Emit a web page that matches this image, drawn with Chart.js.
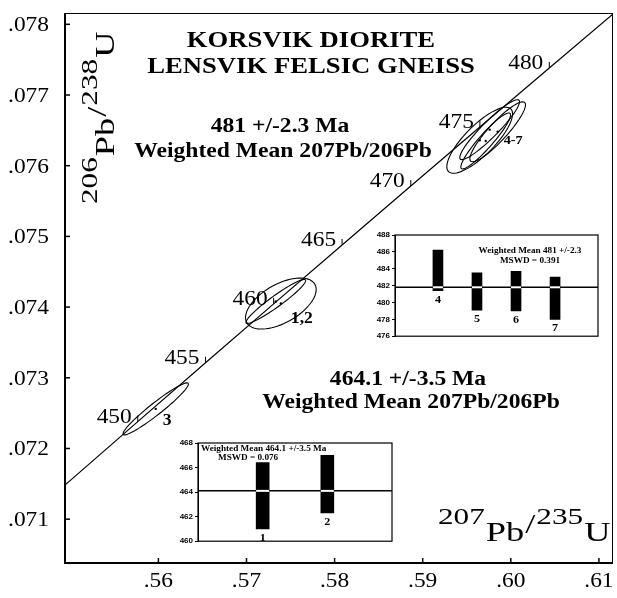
<!DOCTYPE html>
<html>
<head>
<meta charset="utf-8">
<script src="https://cdn.jsdelivr.net/npm/chart.js@4.4.0/dist/chart.umd.min.js"></script>
<style>
html, body { margin:0; padding:0; background:#fff; }
#wrap { position:relative; width:617px; height:598px; }
#main { position:absolute; left:0; top:0; }
#ins1 { position:absolute; left:365px; top:228px; }
#ins2 { position:absolute; left:170px; top:436px; }
</style>
</head>
<body>
<div id="wrap">
<canvas id="main" width="617" height="598"></canvas>
<canvas id="ins1" width="236" height="115"></canvas>
<canvas id="ins2" width="225" height="112"></canvas>
</div>
<script>
// axis ticks
var xTicks = [0.56, 0.57, 0.58, 0.59, 0.60, 0.61];
var yTicks = [0.071, 0.072, 0.073, 0.074, 0.075, 0.076, 0.077, 0.078];

// concordia (207Pb/235U, 206Pb/238U) by age in Ma
var concAge = [440, 445, 450, 455, 460, 465, 470, 475, 480, 485];
var concX = [0.54240, 0.55001, 0.55766, 0.56535, 0.57308, 0.58085, 0.58865, 0.59649, 0.60437, 0.61229];
var concY = [0.070718, 0.071549, 0.072380, 0.073213, 0.074046, 0.074878, 0.075713, 0.076547, 0.077382, 0.078219];
var labelAges = [450, 455, 460, 465, 470, 475, 480];

// zircon error ellipses
var ellName = ['3', '1', '2', '4', '5', '6', '7'];
var ellX = [0.5597, 0.57390, 0.57333, 0.59760, 0.59851, 0.59647, 0.59715];
var ellY = [0.07256, 0.07405, 0.07408, 0.07651, 0.07648, 0.07636, 0.07635];
var ellSX = [0.00371, 0.00401, 0.00339, 0.00339, 0.00316, 0.00373, 0.00282];
var ellSY = [0.000368, 0.000361, 0.000311, 0.000424, 0.000424, 0.000467, 0.000396];
var ellRho = [0.957, 0.55, 0.95, 0.93, 0.90, 0.80, 0.93];

// weighted mean insets
var ins1Grains = ['4', '5', '6', '7'];
var ins1Low = [481.4, 479.1, 479.0, 478.0];
var ins1High = [486.2, 483.5, 483.7, 483.0];
var ins1Mean = 481.8;
var ins1Ticks = [476, 478, 480, 482, 484, 486, 488];

var ins2Grains = ['1', '2'];
var ins2Low = [461.0, 462.3];
var ins2High = [466.4, 467.0];
var ins2Mean = 464.1;
var ins2Ticks = [460, 462, 464, 466, 468];

var SERIF = '"Liberation Serif", "Times New Roman", serif';

function sText(ctx, txt, x, y, font, align, sx) {
    ctx.save();
    ctx.font = font;
    var w = ctx.measureText(txt).width * sx;
    var x0 = align == 'center' ? x - w / 2 : (align == 'right' ? x - w : x);
    ctx.translate(x0, y);
    ctx.scale(sx, 1);
    ctx.textAlign = 'left';
    ctx.textBaseline = 'alphabetic';
    ctx.fillStyle = '#000';
    ctx.fillText(txt, 0, 0);
    ctx.restore();
}

// isotope label like 207Pb/235U with raised numbers
function isoLabel(ctx, parts, sx) {
    var x = 0;
    for (var i = 0; i < parts.length; i++) {
        var p = parts[i];
        ctx.font = p[1];
        ctx.save();
        ctx.translate(x, p[2]);
        ctx.scale(sx, 1);
        ctx.fillText(p[0], 0, 0);
        ctx.restore();
        x += ctx.measureText(p[0]).width * sx + 1;
    }
}

var mainDeco = {
    id: 'mainDeco',
    afterDatasetsDraw: function(chart) {
        var ctx = chart.ctx, xs = chart.scales.x, ys = chart.scales.y, a = chart.chartArea;
        ctx.save();
        ctx.strokeStyle = '#000';
        ctx.fillStyle = '#000';

        // error ellipses
        ctx.lineWidth = 1.1;
        for (var i = 0; i < ellX.length; i++) {
            ctx.beginPath();
            for (var k = 0; k <= 72; k++) {
                var t = k / 72 * Math.PI * 2;
                var vx = ellX[i] + ellSX[i] * Math.cos(t);
                var vy = ellY[i] + ellSY[i] * (ellRho[i] * Math.cos(t) + Math.sqrt(1 - ellRho[i] * ellRho[i]) * Math.sin(t));
                var px = xs.getPixelForValue(vx), py = ys.getPixelForValue(vy);
                if (k == 0) ctx.moveTo(px, py); else ctx.lineTo(px, py);
            }
            ctx.stroke();
        }

        // age ticks on concordia
        ctx.lineWidth = 1;
        labelAges.forEach(function(age) {
            var j = concAge.indexOf(age);
            var px = xs.getPixelForValue(concX[j]), py = ys.getPixelForValue(concY[j]);
            ctx.beginPath();
            ctx.moveTo(px, py);
            ctx.lineTo(px, py - 6);
            ctx.stroke();
            sText(ctx, String(age), px - 6, py + 1, '20px ' + SERIF, 'right', 1.17);
        });

        // grain labels
        var p3 = [xs.getPixelForValue(ellX[0]), ys.getPixelForValue(ellY[0])];
        sText(ctx, '3', p3[0] + 7, p3[1] + 16, 'bold 16px ' + SERIF, 'left', 1.1);
        var p12 = [xs.getPixelForValue(ellX[1]), ys.getPixelForValue(ellY[1])];
        sText(ctx, '1,2', p12[0] + 10, p12[1] + 19, 'bold 16px ' + SERIF, 'left', 1.1);
        var p47 = [xs.getPixelForValue(ellX[3]), ys.getPixelForValue(ellY[3])];
        sText(ctx, '4-7', p47[0] + 14, p47[1] + 14, 'bold 13px ' + SERIF, 'left', 1.1);

        // frame
        ctx.lineWidth = 1;
        ctx.strokeRect(a.left + 0.5, a.top + 0.5, a.right - a.left - 1, a.bottom - a.top - 1);
        ctx.lineWidth = 2;
        ctx.beginPath();
        ctx.moveTo(a.left, a.top);
        ctx.lineTo(a.left, a.bottom);
        ctx.lineTo(a.right, a.bottom);
        ctx.stroke();

        // inward ticks and tick labels
        ctx.lineWidth = 1.5;
        xTicks.forEach(function(v) {
            var px = xs.getPixelForValue(v);
            ctx.beginPath();
            ctx.moveTo(px, a.bottom);
            ctx.lineTo(px, a.bottom - 5);
            ctx.stroke();
            sText(ctx, v.toFixed(2).replace(/^0/, ''), px, a.bottom + 24, '20px ' + SERIF, 'center', 1.17);
        });
        yTicks.forEach(function(v) {
            var py = ys.getPixelForValue(v);
            ctx.beginPath();
            ctx.moveTo(a.left, py);
            ctx.lineTo(a.left + 5, py);
            ctx.stroke();
            sText(ctx, v.toFixed(3).replace(/^0/, ''), a.left - 16, py + 7, '20px ' + SERIF, 'right', 1.17);
        });

        // titles
        sText(ctx, 'KORSVIK DIORITE', 311, 47, 'bold 23px ' + SERIF, 'center', 1.16);
        sText(ctx, 'LENSVIK FELSIC GNEISS', 311, 73, 'bold 23px ' + SERIF, 'center', 1.16);
        sText(ctx, '481 +/-2.3 Ma', 280, 132, 'bold 20px ' + SERIF, 'center', 1.18);
        sText(ctx, 'Weighted Mean 207Pb/206Pb', 283, 157, 'bold 20px ' + SERIF, 'center', 1.18);
        sText(ctx, '464.1 +/-3.5 Ma', 408, 385, 'bold 20px ' + SERIF, 'center', 1.18);
        sText(ctx, 'Weighted Mean 207Pb/206Pb', 411, 408, 'bold 20px ' + SERIF, 'center', 1.18);

        // axis titles
        var num = '24px ' + SERIF, let = '28px ' + SERIF;
        ctx.fillStyle = '#000';
        ctx.save();
        ctx.translate(438, 0);
        isoLabel(ctx, [['207', num, 524], ['Pb', let, 541], ['/', let, 533], ['235', num, 524], ['U', let, 541]], 1.3);
        ctx.restore();
        ctx.save();
        ctx.translate(0, 204);
        ctx.rotate(-Math.PI / 2);
        isoLabel(ctx, [['206', num, 97], ['Pb', let, 114], ['/', let, 106], ['238', num, 97], ['U', let, 114]], 1.3);
        ctx.restore();

        ctx.restore();
    }
};

var mainChart = new Chart(document.getElementById('main'), {
    type: 'scatter',
    data: {
        datasets: [{
            data: concAge.map(function(age, i) { return {x: concX[i], y: concY[i]}; }),
            showLine: true,
            borderColor: '#000',
            borderWidth: 1.2,
            pointRadius: 0,
            tension: 0
        }, {
            data: ellX.map(function(v, i) { return {x: v, y: ellY[i]}; }),
            pointRadius: 1.2,
            pointBackgroundColor: '#000',
            pointBorderWidth: 0
        }]
    },
    options: {
        responsive: false,
        animation: false,
        devicePixelRatio: 1,
        layout: {padding: {top: 13, right: 1, left: 0, bottom: 0}},
        plugins: {legend: {display: false}, tooltip: {enabled: false}},
        scales: {
            x: {
                type: 'linear', min: 0.5494, max: 0.6116,
                afterBuildTicks: function(s) { s.ticks = xTicks.map(function(v) { return {value: v}; }); },
                ticks: {display: false}, grid: {display: false}, border: {display: false},
                afterFit: function(s) { s.height = 35; }
            },
            y: {
                type: 'linear', min: 0.07038, max: 0.07816,
                afterBuildTicks: function(s) { s.ticks = yTicks.map(function(v) { return {value: v}; }); },
                ticks: {display: false}, grid: {display: false}, border: {display: false},
                afterFit: function(s) { s.width = 65; }
            }
        }
    },
    plugins: [mainDeco]
});

function makeInset(id, grains, low, high, mean, ticks, xmin, xmax, barW, yW, pad, texts) {
    var deco = {
        id: 'insetDeco',
        afterDatasetsDraw: function(chart) {
            var ctx = chart.ctx, ys = chart.scales.y, a = chart.chartArea;
            var meta = chart.getDatasetMeta(1);
            ctx.save();
            var my = ys.getPixelForValue(mean);
            meta.data.forEach(function(el, i) {
                if (low[i] < mean && high[i] > mean) {
                    ctx.strokeStyle = '#fff';
                    ctx.lineWidth = 2;
                    ctx.beginPath();
                    ctx.moveTo(el.x - barW / 2, my);
                    ctx.lineTo(el.x + barW / 2, my);
                    ctx.stroke();
                }
                sText(ctx, grains[i], el.x, ys.getPixelForValue(low[i]) + 12, 'bold 11px ' + SERIF, 'center', 1.1);
            });
            ctx.strokeStyle = '#000';
            ctx.lineWidth = 1.2;
            ctx.strokeRect(a.left, a.top, a.right - a.left, a.bottom - a.top);
            texts.forEach(function(t) {
                sText(ctx, t[0], t[1], t[2], 'bold 8px ' + SERIF, t[3], 1.15);
            });
            ctx.restore();
        }
    };
    return new Chart(document.getElementById(id), {
        type: 'bar',
        data: {
            datasets: [{
                type: 'line',
                data: [{x: xmin, y: mean}, {x: xmax, y: mean}],
                borderColor: '#000',
                borderWidth: 1.5,
                pointRadius: 0,
                order: 2
            }, {
                type: 'bar',
                data: grains.map(function(g, i) { return {x: i + 1, y: [low[i], high[i]]}; }),
                backgroundColor: '#000',
                barThickness: barW,
                order: 1
            }]
        },
        options: {
            responsive: false,
            animation: false,
            devicePixelRatio: 1,
            layout: {padding: pad},
            plugins: {legend: {display: false}, tooltip: {enabled: false}},
            scales: {
                x: {type: 'linear', min: xmin, max: xmax, display: false, offset: false},
                y: {
                    min: ticks[0], max: ticks[ticks.length - 1],
                    afterBuildTicks: function(s) { s.ticks = ticks.map(function(v) { return {value: v}; }); },
                    ticks: {color: '#000', padding: 2, font: {family: 'Liberation Sans', size: 8, weight: 'bold'}},
                    grid: {drawOnChartArea: false, tickLength: 3, color: '#000'},
                    border: {display: true, color: '#000'},
                    afterFit: function(s) { s.width = yW; }
                }
            }
        },
        plugins: [deco]
    });
}

makeInset('ins1', ins1Grains, ins1Low, ins1High, ins1Mean, ins1Ticks, -0.1, 5.1, 10, 30,
    {top: 7, right: 3, bottom: 5, left: 0},
    [['Weighted Mean 481 +/-2.3', 165, 25, 'center'], ['MSWD = 0.391', 165, 35, 'center']]);
makeInset('ins2', ins2Grains, ins2Low, ins2High, ins2Mean, ins2Ticks, 0, 3, 13, 28,
    {top: 7, right: 3, bottom: 5, left: 0},
    [['Weighted Mean 464.1 +/-3.5 Ma', 31, 15, 'left'], ['MSWD = 0.076', 48, 24, 'left']]);
</script>
</body>
</html>
